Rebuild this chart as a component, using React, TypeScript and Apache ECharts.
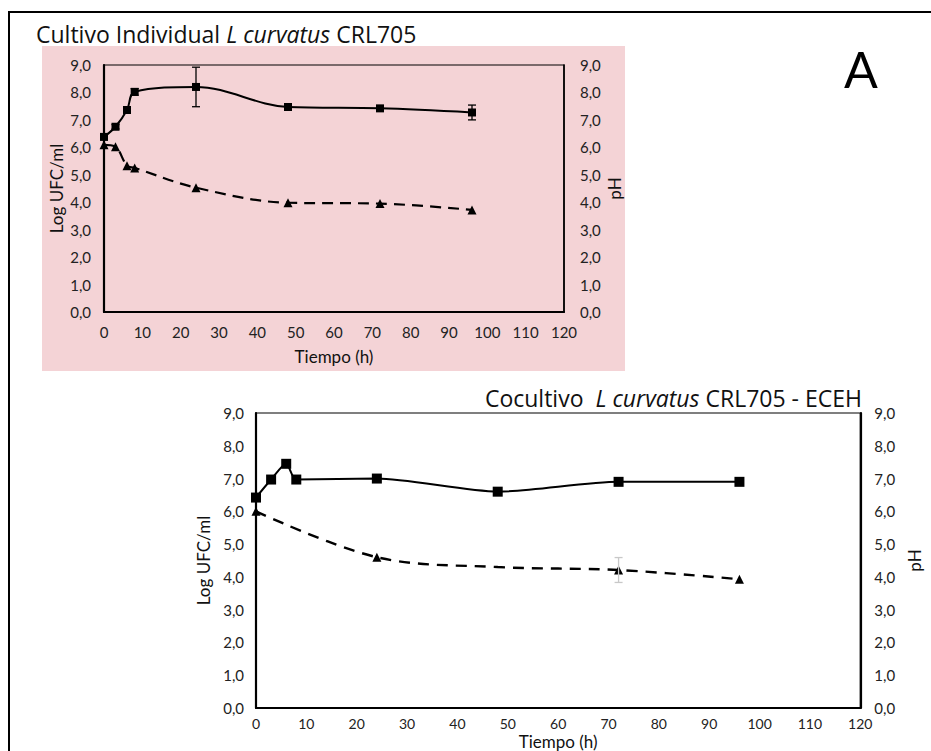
import React, { useEffect, useRef } from "react";
import * as echarts from "echarts";

// ---- Data: Cultivo individual ----
const HOURS_1 = [0, 3, 6, 8, 24, 48, 72, 96];
const UFC_1 = [6.38, 6.75, 7.36, 8.02, 8.2, 7.47, 7.42, 7.27];
const UFC_1_ERR = [0.05, 0.08, 0.1, 0.12, 0.72, 0.1, 0.05, 0.27];
const PH_1 = [6.09, 6.02, 5.33, 5.25, 4.53, 3.98, 3.95, 3.72];

// ---- Data: Cocultivo ----
const HOURS_2 = [0, 3, 6, 8, 24, 48, 72, 96];
const UFC_2 = [6.42, 6.97, 7.45, 6.97, 7.0, 6.6, 6.9, 6.9];
const HOURS_PH_2 = [0, 24, 48, 72, 96];
const PH_2 = [6.0, 4.6, 4.3, 4.21, 3.93];
const PH_2_MARK = [true, true, false, true, true];
const PH_2_ERR = [0, 0, 0, 0.38, 0];

const X_TICKS = [0, 10, 20, 30, 40, 50, 60, 70, 80, 90, 100, 110, 120];
const Y_MIN = 0;
const Y_MAX = 9;

const FONT = "Lato, 'Open Sans', sans-serif";
const TITLE_FONT = "'Open Sans', Lato, sans-serif";
const INK = "#111";

function fmt(v: number) {
  return v.toFixed(1).replace(".", ",");
}

function errorSeries(
  xs: number[],
  ys: number[],
  errs: number[],
  xi: number,
  yi: number,
  color: string,
  cap: number
) {
  const data: number[][] = [];
  xs.forEach((x, i) => {
    if (errs[i] > 0) data.push([x, ys[i] - errs[i], ys[i] + errs[i]]);
  });
  return {
    type: "custom",
    xAxisIndex: xi,
    yAxisIndex: yi,
    silent: true,
    z: 6,
    encode: { x: 0, y: [1, 2] },
    data,
    renderItem: (_params: any, api: any) => {
      const x = api.value(0);
      const lo = api.coord([x, api.value(1)]);
      const hi = api.coord([x, api.value(2)]);
      const st = { stroke: color, lineWidth: 1.3 };
      return {
        type: "group",
        children: [
          { type: "line", shape: { x1: lo[0], y1: lo[1], x2: hi[0], y2: hi[1] }, style: st },
          { type: "line", shape: { x1: hi[0] - cap, y1: hi[1], x2: hi[0] + cap, y2: hi[1] }, style: st },
          { type: "line", shape: { x1: lo[0] - cap, y1: lo[1], x2: lo[0] + cap, y2: lo[1] }, style: st },
        ],
      };
    },
  };
}

function xAxisCfg(gridIndex: number, margin: number, nameGap: number, labelSize: number) {
  return {
    type: "value",
    gridIndex,
    min: X_TICKS[0],
    max: X_TICKS[X_TICKS.length - 1],
    interval: X_TICKS[1] - X_TICKS[0],
    name: "Tiempo (h)",
    nameLocation: "middle",
    nameGap,
    nameTextStyle: { fontFamily: FONT, fontSize: 17, color: INK },
    axisLine: { show: true, onZero: false, lineStyle: { color: "#000", width: 2.2 } },
    axisTick: { show: false },
    splitLine: { show: false },
    axisLabel: { fontFamily: FONT, fontSize: labelSize, color: "#222", margin },
  };
}

function yAxisCfg(
  gridIndex: number,
  position: "left" | "right",
  name: string,
  nameGap: number,
  margin: number,
  lineWidth: number
) {
  return {
    type: "value",
    gridIndex,
    position,
    min: Y_MIN,
    max: Y_MAX,
    interval: 1,
    name,
    nameLocation: "middle",
    nameGap,
    nameRotate: 90,
    nameTextStyle: { fontFamily: FONT, fontSize: 17, color: INK },
    axisLine: { show: true, onZero: false, lineStyle: { color: "#000", width: lineWidth } },
    axisTick: { show: false },
    splitLine: { show: false },
    axisLabel: { fontFamily: FONT, fontSize: 15, color: "#222", margin, formatter: fmt },
  };
}

export default function App() {
  const ref = useRef<HTMLDivElement>(null);

  useEffect(() => {
    if (!ref.current) return;
    const chart = echarts.init(ref.current, undefined, { renderer: "svg" });

    const titleRich = (size: number) => ({
      a: { fontFamily: TITLE_FONT, fontSize: size, color: INK, fontWeight: "normal" },
      b: { fontFamily: TITLE_FONT, fontSize: size, color: INK, fontWeight: "normal", fontStyle: "italic" },
    });

    const option: any = {
      animation: false,
      backgroundColor: "#fff",
      title: [
        {
          text: "{a|Cultivo Individual }{b|L curvatus}{a| CRL705}",
          left: 36,
          top: 22,
          padding: 0,
          textStyle: { fontWeight: "normal", rich: titleRich(23) },
        },
        {
          text: "{a|Cocultivo  }{b|L curvatus}{a| CRL705 - ECEH}",
          right: 69,
          top: 386,
          padding: 0,
          textStyle: { fontWeight: "normal", rich: titleRich(23) },
        },
      ],
      graphic: [
        {
          type: "rect",
          z: -10,
          shape: { x: 9, y: 12, width: 1000, height: 1000 },
          style: { fill: "none", stroke: "#000", lineWidth: 2 },
        },
        {
          type: "rect",
          z: -9,
          shape: { x: 42, y: 46, width: 583, height: 325 },
          style: { fill: "#f4d3d6" },
        },
        {
          type: "text",
          x: 861,
          y: 69,
          style: {
            text: "A",
            fontFamily: FONT,
            fontSize: 50,
            fill: "#000",
            textAlign: "center",
            textVerticalAlign: "middle",
          },
        },
      ],
      grid: [
        { left: 104, top: 65, width: 460, height: 247, show: true, borderColor: "#000", borderWidth: 1.2, backgroundColor: "transparent" },
        { left: 256, top: 413, width: 613, height: 297, show: true, borderColor: "#000", borderWidth: 1.2, backgroundColor: "transparent" },
      ],
      xAxis: [xAxisCfg(0, 12, 36, 15), xAxisCfg(1, 8, 25, 14)],
      yAxis: [
        yAxisCfg(0, "left", "Log UFC/ml", 39, 13, 2.2),
        yAxisCfg(0, "right", "pH", 42, 16, 1.6),
        yAxisCfg(1, "left", "Log UFC/ml", 44, 12, 2.2),
        yAxisCfg(1, "right", "pH", 44, 14, 2.2),
      ],
      series: [
        {
          type: "line",
          xAxisIndex: 0,
          yAxisIndex: 0,
          data: HOURS_1.map((x, i) => [x, UFC_1[i]]),
          smooth: 0.35,
          symbol: "rect",
          symbolSize: 8,
          lineStyle: { color: "#000", width: 2 },
          itemStyle: { color: "#000" },
          z: 4,
        },
        errorSeries(HOURS_1, UFC_1, UFC_1_ERR, 0, 0, "#000", 4),
        {
          type: "line",
          xAxisIndex: 0,
          yAxisIndex: 1,
          data: HOURS_1.map((x, i) => [x, PH_1[i]]),
          smooth: 0.35,
          symbol: "triangle",
          symbolSize: 9,
          lineStyle: { color: "#000", width: 2.2, type: [11, 7] },
          itemStyle: { color: "#000" },
          z: 4,
        },
        {
          type: "line",
          xAxisIndex: 1,
          yAxisIndex: 2,
          data: HOURS_2.map((x, i) => [x, UFC_2[i]]),
          smooth: 0.25,
          symbol: "rect",
          symbolSize: 10,
          lineStyle: { color: "#000", width: 2 },
          itemStyle: { color: "#000" },
          z: 4,
        },
        {
          type: "line",
          xAxisIndex: 1,
          yAxisIndex: 3,
          data: HOURS_PH_2.map((x, i) => ({
            value: [x, PH_2[i]],
            symbol: PH_2_MARK[i] ? "triangle" : "none",
          })),
          smooth: 0.35,
          symbol: "triangle",
          symbolSize: 9,
          lineStyle: { color: "#000", width: 2.4, type: [11, 8] },
          itemStyle: { color: "#000" },
          z: 4,
        },
        errorSeries(HOURS_PH_2, PH_2, PH_2_ERR, 1, 3, "#c8c8c8", 4),
      ],
    };

    chart.setOption(option);
    return () => chart.dispose();
  }, []);

  return (
    <div
      ref={ref}
      style={{ position: "fixed", left: 0, top: 0, width: 931, height: 751 }}
    />
  );
}
